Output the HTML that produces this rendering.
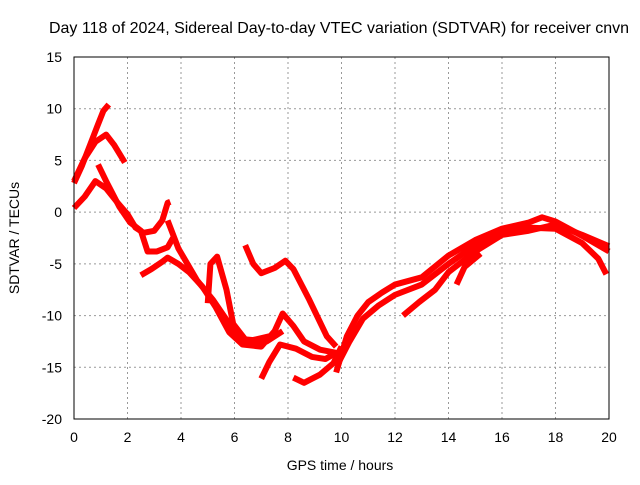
<!DOCTYPE html>
<html><head><meta charset="utf-8"><style>
body{margin:0;background:#fff;}
text{font-family:"Liberation Sans",sans-serif;font-size:14px;fill:#000;}
</style></head><body>
<svg id="chart" width="640" height="480" xmlns="http://www.w3.org/2000/svg">
<text x="339" y="33" text-anchor="middle" style="font-size:16px">Day 118 of 2024, Sidereal Day-to-day VTEC variation (SDTVAR) for receiver cnvn</text>
<g id="grid"></g>
<g id="ticks"></g>
<g id="series"></g>
<rect x="74" y="57" width="535" height="362" fill="none" stroke="#000" stroke-width="1"/>
<text x="340" y="470" text-anchor="middle">GPS time / hours</text>
<text x="19" y="238" text-anchor="middle" transform="rotate(-90 19 238)">SDTVAR / TECUs</text>
</svg>
<script>
const xTicks=[0,2,4,6,8,10,12,14,16,18,20];
const yTicks=[15,10,5,0,-5,-10,-15,-20];
const arc1=[[0,2.8],[0.3,4.5],[0.6,6.5],[0.9,8.5],[1.1,9.8],[1.3,10.4]];
const arc2=[[0,3],[0.4,5.2],[0.8,6.8],[1.2,7.5],[1.5,6.5],[1.9,4.8]];
const arc3=[[0,0.4],[0.4,1.5],[0.8,3],[1.2,2.3],[1.6,1],[2,-0.2],[2.3,-1.5],[2.6,-2],[3,-1.8],[3.3,-0.8],[3.5,0.9],[3.6,1]];
const arc4=[[0.9,4.6],[1.2,3],[1.7,0.5],[2.1,-1],[2.5,-1.8],[2.75,-3.8],[3.1,-3.8],[3.5,-3.4],[3.7,-2.5]];
const arc5=[[3.5,-0.8],[3.9,-3.5],[4.6,-6.6],[5.2,-8.5],[5.7,-10.4],[6.3,-12.6],[6.8,-12.3],[7.3,-12]];
const arc6=[[2.5,-6.1],[2.9,-5.5],[3.3,-4.8],[3.5,-4.4],[3.9,-5],[4.3,-5.8],[4.8,-7.2],[5.3,-9.2],[5.8,-11.6],[6.3,-12.8],[7,-13],[7.5,-11.5],[7.8,-9.8],[8.2,-11],[8.6,-12.5],[9.2,-13.3],[9.8,-13.6]];
const arc7=[[5,-8.8],[5.1,-5],[5.35,-4.3],[5.7,-7.5],[5.95,-10.8],[6.4,-12.3],[7.2,-12.5],[7.8,-11.5]];
const arc8=[[6.4,-3.2],[6.7,-5],[7,-5.9],[7.5,-5.4],[7.9,-4.7],[8.2,-5.5],[8.8,-8.5],[9.45,-12],[9.8,-13]];
const arc9=[[7,-16.1],[7.3,-14.5],[7.7,-12.8],[8.3,-13.2],[8.9,-14],[9.4,-14.2],[9.8,-13.6]];
const arc10=[[8.2,-16],[8.6,-16.5],[9.2,-15.7],[9.7,-14.6],[10,-13]];
const arc11=[[9.8,-15.5],[10.2,-12],[10.6,-10],[11,-8.7],[11.5,-7.8],[12,-7],[13,-6.3],[14,-4.2],[15,-2.7],[16,-1.6],[17,-1],[17.5,-0.5],[18,-0.9],[19,-2.3],[20,-3.8]];
const arc12=[[9.9,-14.5],[10.3,-12.5],[10.8,-10.3],[11.4,-9],[12,-8],[13,-7],[14,-5],[15,-3.2],[16,-2],[17,-1.5],[18,-1.6],[19,-3],[19.6,-4.5],[19.9,-6]];
const arc13=[[12.3,-10],[12.9,-8.7],[13.5,-7.5],[14,-5.8],[15,-3.8],[16,-2.2],[17,-1.8],[18,-1.2],[19,-2.2],[20,-3.3]];
const arc14=[[14.3,-7],[14.6,-5.3],[15.2,-4]];
const allSeries=[arc1,arc2,arc3,arc4,arc5,arc6,arc7,arc8,arc9,arc10,arc11,arc12,arc13,arc14];
const NS="http://www.w3.org/2000/svg";
const X=h=>74+h*535/20, Y=v=>57+(15-v)*362/35;
const grid=document.getElementById('grid'), ticks=document.getElementById('ticks'), ser=document.getElementById('series');
xTicks.forEach(t=>{
 const l=document.createElementNS(NS,'line');
 
 
 l.setAttribute('x1',X(t));l.setAttribute('x2',X(t));l.setAttribute('y1',57);l.setAttribute('y2',419);
 l.setAttribute('stroke','#999');l.setAttribute('stroke-dasharray','2,3');grid.appendChild(l);
 const tx=document.createElementNS(NS,'text');
 
 
 tx.setAttribute('x',X(t));tx.setAttribute('y',442);tx.setAttribute('text-anchor','middle');tx.textContent=t;ticks.appendChild(tx);
});
yTicks.forEach(t=>{
 const l=document.createElementNS(NS,'line');
 
 
 l.setAttribute('x1',74);l.setAttribute('x2',609);l.setAttribute('y1',Y(t));l.setAttribute('y2',Y(t));
 l.setAttribute('stroke','#999');l.setAttribute('stroke-dasharray','2,3');grid.appendChild(l);
 const tx=document.createElementNS(NS,'text');
 
 
 tx.setAttribute('x',62);tx.setAttribute('y',Y(t)+5);tx.setAttribute('text-anchor','end');tx.textContent=t;ticks.appendChild(tx);
});
allSeries.forEach(s=>{
 const p=document.createElementNS(NS,'polyline');
 
 
 p.setAttribute('points',s.map(d=>X(d[0])+','+Y(d[1])).join(' '));
 p.setAttribute('fill','none');p.setAttribute('stroke','#f00');p.setAttribute('stroke-width','6');
 p.setAttribute('stroke-linejoin','round');ser.appendChild(p);
});
</script>
</body></html>
